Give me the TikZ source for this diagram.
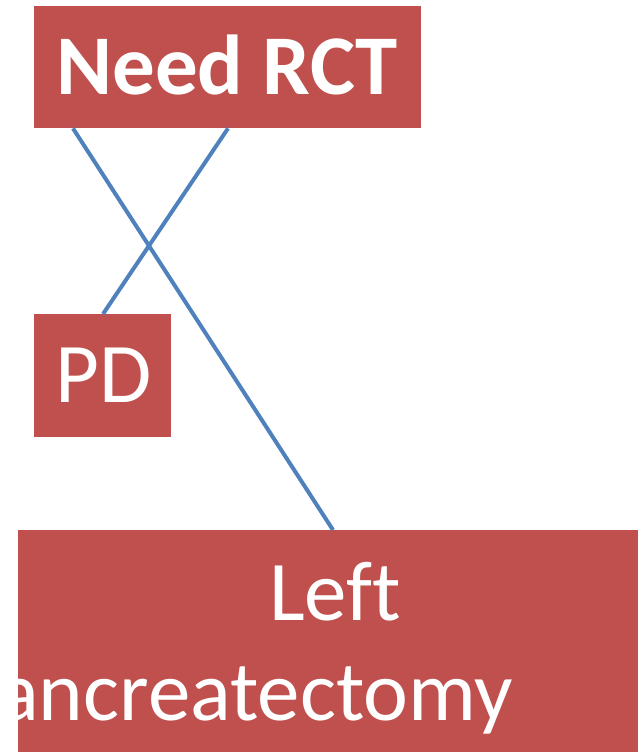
\documentclass[tikz,border=0pt]{standalone}
\usepackage{fontspec}
\setmainfont{Carlito}[Ligatures=NoCommon]
\usetikzlibrary{calc}
\definecolor{boxred}{HTML}{C0504D}
\definecolor{lineblue}{HTML}{4F81BD}
\begin{document}
\begin{tikzpicture}[x=1pt,y=-1pt,
  redbox/.style={fill=boxred,draw=none,inner sep=0pt,anchor=north west},
  boxtext/.style={text=white,inner sep=0pt,font=\fontsize{85}{100}\selectfont},
  link/.style={draw=lineblue,line width=4pt}]
\useasboundingbox (0,0) rectangle (638,752);
\node[redbox,minimum width=387pt,minimum height=122pt] (need) at (34,6) {};
\node[redbox,minimum width=137pt,minimum height=123pt] (pd) at (34,314) {};
\node[redbox,minimum width=620pt,minimum height=222pt] (lp) at (18,530) {};
\node[boxtext,anchor=base,font=\fontsize{85}{100}\selectfont\bfseries] (needt) at (227,95) {Need RCT};
\node[boxtext,anchor=base] (pdt) at (104,402) {PD};
\node[boxtext,anchor=base] (leftt) at (335,620) {Left};
\node[boxtext,anchor=base west] (pant) at (-2,720) {ancreatectomy};
\draw[link] ($(need.south west)+(39,0)$) -- ($(lp.north west)+(315,0)$);
\draw[link] ($(need.south west)+(194,0)$) -- ($(pd.north west)+(69,0)$);
\end{tikzpicture}
\end{document}
